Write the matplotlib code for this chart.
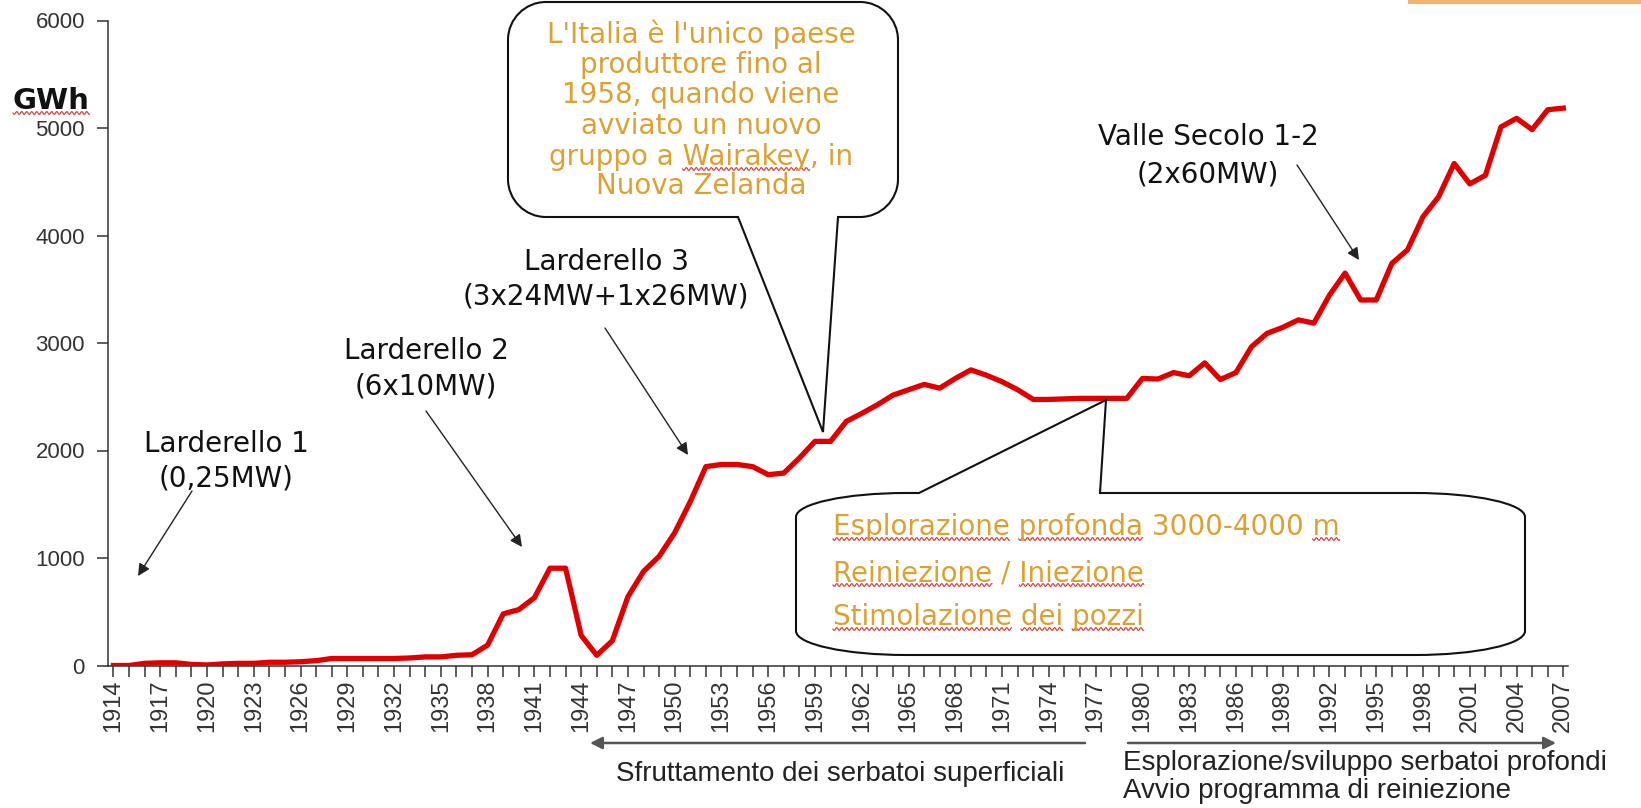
import numpy as np
import matplotlib
matplotlib.use('Agg')
import matplotlib.pyplot as plt
from matplotlib.path import Path
from matplotlib.patches import PathPatch, Rectangle
from matplotlib.lines import Line2D
from matplotlib.font_manager import FontProperties

# Dati: produzione geotermoelettrica in Italia (GWh)
years = list(range(1914, 2008))
gwh = [0, 0, 20, 25, 25, 10, 5, 15, 20, 20,
       30, 30, 35, 45, 65, 65, 65, 65, 65, 70,
       80, 80, 95, 100, 190, 480, 520, 630, 905, 905,
       280, 95, 230, 640, 875, 1015, 1235, 1525, 1850, 1870,
       1870, 1850, 1775, 1790, 1930, 2085, 2085, 2270, 2345, 2425,
       2515, 2565, 2615, 2580, 2670, 2750, 2700, 2640, 2565, 2475,
       2475, 2480, 2485, 2485, 2485, 2485, 2670, 2665, 2725, 2695,
       2815, 2660, 2725, 2965, 3090, 3145, 3215, 3185, 3445, 3650,
       3400, 3400, 3740, 3865, 4175, 4360, 4670, 4480, 4560, 5010,
       5090, 4985, 5170, 5185]
label_years = years[::3]
y_ticks = [0, 1000, 2000, 3000, 4000, 5000, 6000]

box_top_lines = ["L'Italia è l'unico paese", "produttore fino al", "1958, quando viene",
                 "avviato un nuovo", "gruppo a Wairakey, in", "Nuova Zelanda"]
box_bottom_lines = ["Esplorazione profonda 3000-4000 m", "Reiniezione / Iniezione",
                    "Stimolazione dei pozzi"]

W, H = 1641, 808
plt.rcParams['font.family'] = ['DejaVu Sans']
ORANGE = '#DDA032'


def fx(x):
    return x / W


def fy(y):
    return 1 - y / H


fig = plt.figure(figsize=(W / 100, H / 100), dpi=100)
ax = fig.add_axes([108 / W, 1 - 665.5 / H, 1460 / W, 645 / H])

# Serie principale
ax.plot(years, gwh, color='#E00000', lw=3.8, solid_joinstyle='round', zorder=3)

ax.set_xlim(1913.65, 2007.3)
ax.set_ylim(0, 6000)
for s in ['top', 'right']:
    ax.spines[s].set_visible(False)
for s in ['left', 'bottom']:
    ax.spines[s].set_color('#333333')
    ax.spines[s].set_linewidth(1.1)

ax.set_yticks(y_ticks)
ax.set_yticklabels([str(v) for v in y_ticks], fontfamily='Liberation Sans', fontsize=16, color='#333333')
ax.set_xticks(years)
ax.set_xticklabels([str(y) if y in label_years else '' for y in years], rotation=90,
                   fontfamily='Liberation Sans', fontsize=17, color='#333333')
ax.tick_params(axis='x', direction='out', length=8, width=1.1, color='#333333', pad=2)
ax.tick_params(axis='y', direction='out', length=8, width=1.1, color='#333333', pad=8.6)

renderer = fig.canvas.get_renderer()


def text_w(s, fp):
    w, h, d = renderer.get_text_width_height_descent(s, fp, ismath=False)
    return w


def squiggle(x0, x1, yb):
    xs = np.arange(x0, x1, 0.5)
    ys = yb + 4 + 1.4 * np.sin(2 * np.pi * (xs - x0) / 5.0)
    fig.add_artist(Line2D(fx(xs), fy(ys), color='#D83030', lw=0.8, zorder=6))


def put_line(txt, x, yb, ha, fp, color, words=()):
    fig.text(fx(x), fy(yb), txt, ha=ha, va='baseline', fontproperties=fp, color=color, zorder=6)
    left = x - text_w(txt, fp) / 2 if ha == 'center' else x
    pos = 0
    for wd in words:
        i = txt.index(wd, pos)
        end = text_w(txt[:i + len(wd)], fp)
        start = end - text_w(wd, fp)
        squiggle(left + start, left + end, yb)
        pos = i + len(wd)


# Etichetta asse y
fp_gwh = FontProperties(family='DejaVu Sans', weight='bold', size=21)
put_line('GWh', 13, 109, 'left', fp_gwh, '#111111', words=('GWh',))


def callout(x0, y0, x1, y1, rx, ry, wa, tip, wb, side):
    k = 0.5523
    verts, codes = [], []

    def mv(p):
        verts.append(p); codes.append(Path.MOVETO)

    def ln(p):
        verts.append(p); codes.append(Path.LINETO)

    def cv(p1, p2, p3):
        verts.extend([p1, p2, p3]); codes.extend([Path.CURVE4] * 3)

    mv((x0 + rx, y0))
    if side == 'top':
        ln((wa, y0)); ln(tip); ln((wb, y0))
    ln((x1 - rx, y0))
    cv((x1 - rx + k * rx, y0), (x1, y0 + ry - k * ry), (x1, y0 + ry))
    ln((x1, y1 - ry))
    cv((x1, y1 - ry + k * ry), (x1 - rx + k * rx, y1), (x1 - rx, y1))
    if side == 'bottom':
        ln((wb, y1)); ln(tip); ln((wa, y1))
    ln((x0 + rx, y1))
    cv((x0 + rx - k * rx, y1), (x0, y1 - ry + k * ry), (x0, y1 - ry))
    ln((x0, y0 + ry))
    cv((x0, y0 + ry - k * ry), (x0 + rx - k * rx, y0), (x0 + rx, y0))
    verts.append((x0 + rx, y0)); codes.append(Path.CLOSEPOLY)
    v = np.array(verts, dtype=float)
    v[:, 0] = fx(v[:, 0]); v[:, 1] = fy(v[:, 1])
    fig.add_artist(PathPatch(Path(v, codes), facecolor='white', edgecolor='#111111',
                             lw=1.5, transform=fig.transFigure, zorder=4))


# Fumetto in alto
callout(508, 2, 898, 217, 38, 38, 738, (823, 432), 838, 'bottom')
fp_or = FontProperties(family='DejaVu Sans', size=20)
top_base = [43, 73, 103, 134, 165, 194]
for txt, yb in zip(box_top_lines, top_base):
    put_line(txt, 701, yb, 'center', fp_or, ORANGE,
             words=('Wairakey',) if 'Wairakey' in txt else ())

# Fumetto in basso
callout(796, 493, 1525, 655, 110, 24, 919, (1106, 400), 1100, 'top')
bot_words = [('Esplorazione', 'profonda', 'm'), ('Reiniezione', 'Iniezione'),
             ('Stimolazione', 'dei', 'pozzi')]
for txt, yb, wds in zip(box_bottom_lines, [535, 581, 625], bot_words):
    put_line(txt, 833, yb, 'left', fp_or, ORANGE, words=wds)

# Annotazioni impianti
fp_ann = FontProperties(family='DejaVu Sans', size=20)
notes = [(('Larderello 1', '(0,25MW)'), 226, (452, 487), (192, 491), (138, 576)),
         (('Larderello 2', '(6x10MW)'), 426, (359, 395), (426, 411), (522, 547)),
         (('Larderello 3', '(3x24MW+1x26MW)'), 606, (270, 305), (605, 328), (688, 455)),
         (('Valle Secolo 1-2', '(2x60MW)'), 1208, (145, 182), (1297, 165), (1359, 260))]
for lines, xc, bases, p0, p1 in notes:
    for txt, yb in zip(lines, bases):
        put_line(txt, xc, yb, 'center', fp_ann, '#111111')
    ax.annotate('', xy=(p1[0], H - p1[1]), xycoords='figure pixels',
                xytext=(p0[0], H - p0[1]), textcoords='figure pixels',
                arrowprops=dict(arrowstyle='-|>', color='#222222', lw=1.0,
                                mutation_scale=18, shrinkA=0, shrinkB=0))

# Periodi sotto l'asse
for (x0, x1) in [(1085, 590), (1128, 1556)]:
    ax.annotate('', xy=(x1, H - 743), xycoords='figure pixels',
                xytext=(x0, H - 743), textcoords='figure pixels',
                arrowprops=dict(arrowstyle='-|>', color='#555555', lw=1.8,
                                mutation_scale=18, shrinkA=0, shrinkB=0))
fp_low = FontProperties(family='Liberation Sans', size=20)
put_line('Sfruttamento dei serbatoi superficiali', 840, 781, 'center', fp_low, '#222222')
put_line('Esplorazione/sviluppo serbatoi profondi', 1123, 770, 'left', fp_low, '#222222')
put_line('Avvio programma di reiniezione', 1123, 798, 'left', fp_low, '#222222')

# Barra arancione in alto a destra
fig.add_artist(Rectangle((fx(1408), fy(4)), fx(W - 1408), 4 / H, transform=fig.transFigure,
                         facecolor='#F2B46A', edgecolor='none', zorder=5))

fig.savefig('out.png', dpi=100)
